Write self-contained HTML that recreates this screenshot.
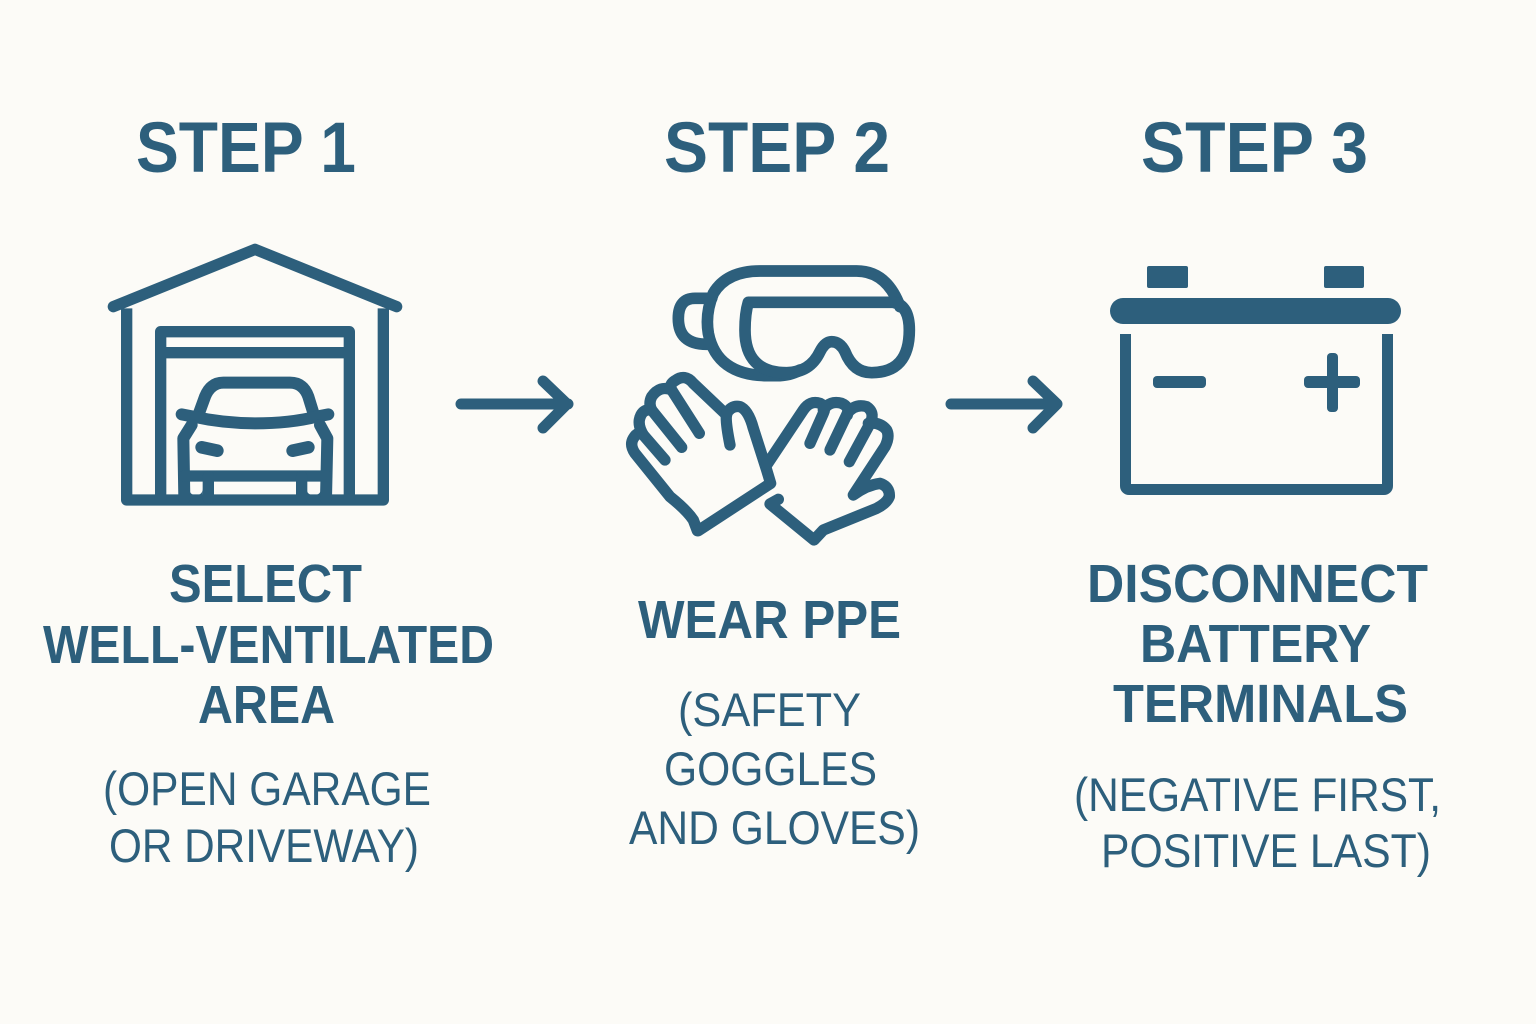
<!DOCTYPE html>
<html><head><meta charset="utf-8"><style>
html,body{margin:0;padding:0;background:#fcfbf7}
svg{display:block}
.b{font-family:"Liberation Sans",sans-serif;font-weight:700;fill:#2d5f7c}
.r{font-family:"Liberation Sans",sans-serif;font-weight:400;fill:#2d5f7c}
.s{fill:none;stroke:#2d5f7c;stroke-linecap:round;stroke-linejoin:round}
</style></head><body>
<svg width="1536" height="1024" viewBox="0 0 1536 1024" xmlns="http://www.w3.org/2000/svg">
<rect width="1536" height="1024" fill="#fcfbf7"/>
<g class="b" font-size="71">
<text x="136" y="172" textLength="220" lengthAdjust="spacingAndGlyphs">STEP 1</text>
<text x="664" y="172" textLength="226" lengthAdjust="spacingAndGlyphs">STEP 2</text>
<text x="1141" y="172" textLength="227" lengthAdjust="spacingAndGlyphs">STEP 3</text>
</g>
<g class="s" stroke-width="34" transform="translate(90,230) scale(.33333)">
<path d="M70 230L495 58L920 230"/>
<path d="M110 235V810H880V235" stroke-linecap="butt"/>
<path d="M212 810V305H778V810M212 368H778" stroke-linecap="butt"/>
<path stroke-width="36" d="M325 555L345 500Q362 458 400 458H600Q640 458 655 500L672 555"/>
<path stroke-width="36" d="M275 553L310 560Q400 580 495 580Q600 580 680 560L715 553"/>
<path stroke-width="36" d="M305 585L280 625L283 805M690 585L712 625L708 805"/>
<path stroke-width="38" d="M335 652L382 662M655 652L608 662"/>
<path d="M283 738H710"/>
<path d="M355 740V805M635 740V805"/>
<path fill="#2d5f7c" stroke="none" d="M298 775Q298 795 318 795H298ZM338 775Q338 795 318 795H338ZM650 775Q650 795 671 795H650ZM693 775Q693 795 671 795H693Z"/>
</g>
<g class="s" stroke-width="35" transform="translate(610,250) scale(.33333)">
<path d="M870 170Q830 63 740 63H450Q350 63 310 130Q285 190 295 250Q320 375 470 377H500Q540 377 570 360"/>
<path d="M305 145H255Q205 145 205 205Q205 283 290 283"/>
<path d="M415 157H850Q898 165 898 240Q898 368 785 368Q730 368 705 305Q690 275 665 275Q645 275 630 305Q600 368 530 368Q405 368 405 240Q405 190 415 157Z"/>
<g stroke-width="34">
<path d="M165 630L100 555Q85 540 70 565Q58 585 75 610L180 740Q230 780 250 810L262 842"/>
<path d="M215 592L125 480Q95 475 88 510Q85 530 100 555"/>
<path d="M268 550L185 420Q150 405 125 440Q115 460 125 480"/>
<path d="M350 495L250 400Q225 370 195 392Q175 405 185 420"/>
<path d="M360 585Q345 510 350 490Q365 465 390 470Q415 480 430 535L470 660L482 700L265 842"/>
<path d="M470 645L580 480Q600 450 630 460Q650 470 640 490L600 580"/>
<path d="M660 600L710 495M640 480Q660 450 695 460Q720 470 712 495"/>
<path d="M718 635L775 530M712 490Q735 460 770 470Q800 490 775 530"/>
<path d="M775 520Q810 515 830 540Q840 560 825 590L730 735Q770 705 810 700Q840 710 838 740Q830 760 800 775L640 840L612 870L480 762L505 748"/>
</g>
</g>
<g fill="#2d5f7c">
<rect x="1147" y="266" width="41" height="22" rx="2"/>
<rect x="1324" y="266" width="40" height="22" rx="2"/>
<rect x="1110" y="298" width="291" height="26" rx="13"/>
<path d="M1120 334h11v150h251v-150h11v152a9 9 0 0 1-9 9h-255a9 9 0 0 1-9-9z"/>
<rect x="1153" y="376" width="53" height="12" rx="4"/>
<rect x="1304" y="376" width="56" height="12" rx="4"/>
<rect x="1327" y="353" width="11" height="59" rx="4"/>
</g>
<g class="s" stroke-width="11">
<path d="M461 404H568M543 381L567 404L543 428"/>
<path d="M951 404H1057M1033 381L1057 404L1033 428"/>
</g>
<g class="b" font-size="54">
<text x="169" y="602" textLength="193" lengthAdjust="spacingAndGlyphs">SELECT</text>
<text x="43" y="663" textLength="451" lengthAdjust="spacingAndGlyphs">WELL-VENTILATED</text>
<text x="198" y="723" textLength="137" lengthAdjust="spacingAndGlyphs">AREA</text>
<text x="638" y="638" textLength="263" lengthAdjust="spacingAndGlyphs">WEAR PPE</text>
<text x="1087" y="602" textLength="341" lengthAdjust="spacingAndGlyphs">DISCONNECT</text>
<text x="1140" y="662" textLength="231" lengthAdjust="spacingAndGlyphs">BATTERY</text>
<text x="1113" y="722" textLength="295" lengthAdjust="spacingAndGlyphs">TERMINALS</text>
</g>
<g class="r" font-size="47">
<text x="103" y="805" textLength="328" lengthAdjust="spacingAndGlyphs">(OPEN GARAGE</text>
<text x="109" y="862" textLength="310" lengthAdjust="spacingAndGlyphs">OR DRIVEWAY)</text>
<text x="678" y="726" textLength="183" lengthAdjust="spacingAndGlyphs">(SAFETY</text>
<text x="664" y="785" textLength="213" lengthAdjust="spacingAndGlyphs">GOGGLES</text>
<text x="629" y="844" textLength="291" lengthAdjust="spacingAndGlyphs">AND GLOVES)</text>
<text x="1074" y="811" textLength="367" lengthAdjust="spacingAndGlyphs">(NEGATIVE FIRST,</text>
<text x="1101" y="867" textLength="330" lengthAdjust="spacingAndGlyphs">POSITIVE LAST)</text>
</g>
</svg>
</body></html>
